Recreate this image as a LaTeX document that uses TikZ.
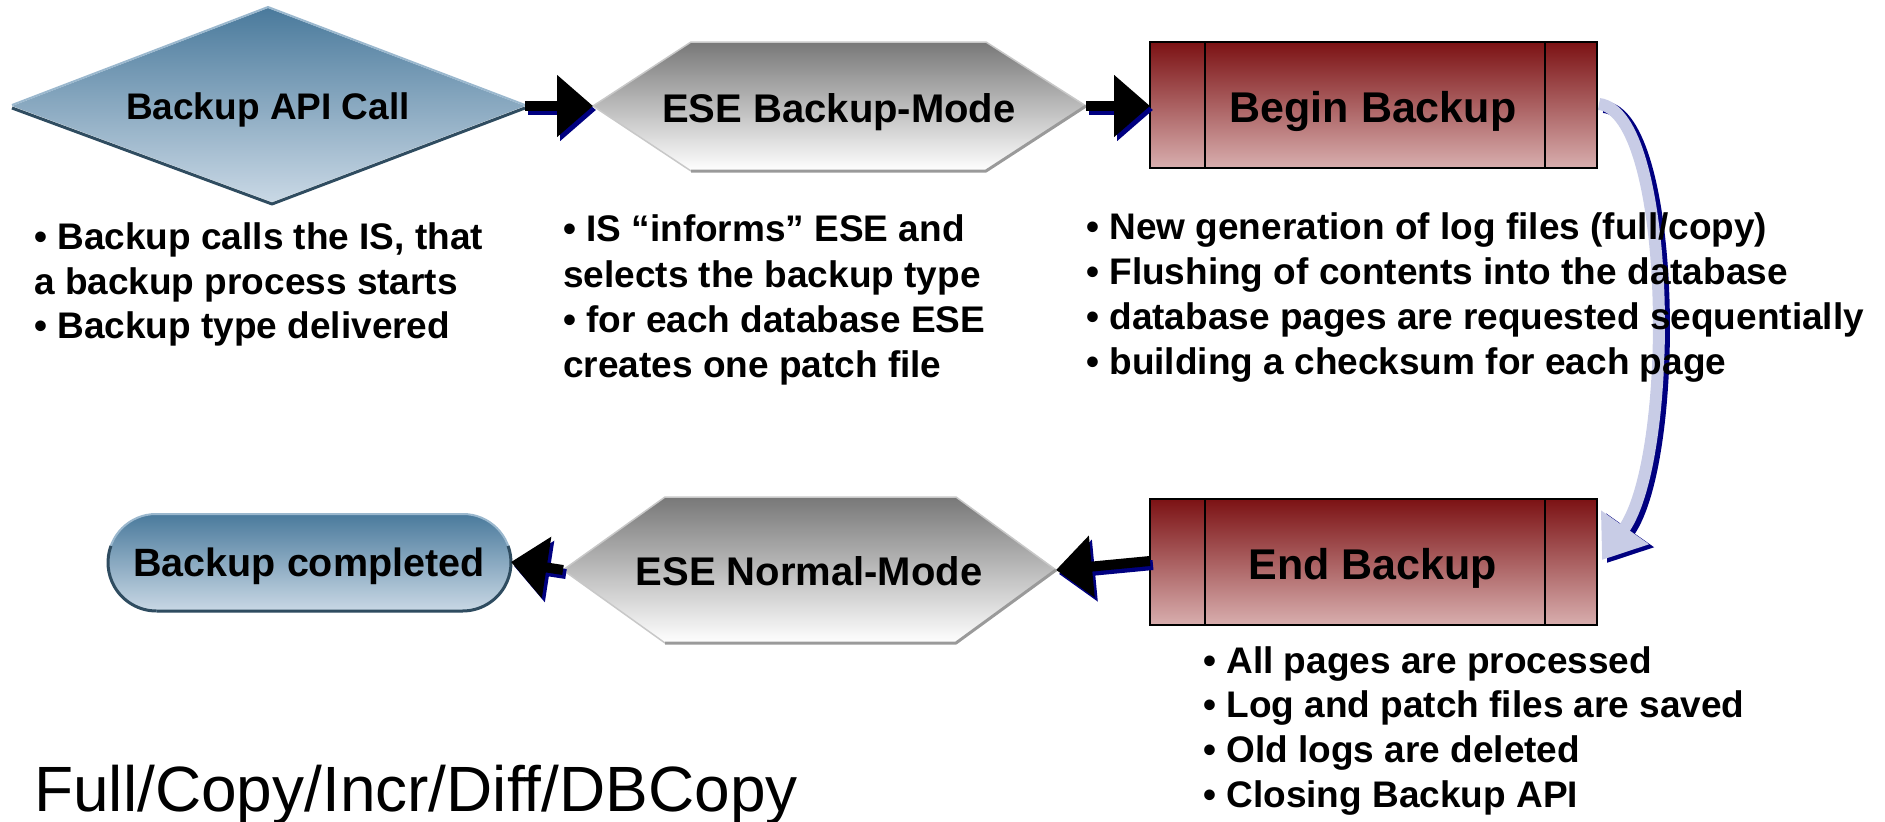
\documentclass[tikz,border=0pt]{standalone}
\usepackage{fontspec}
\setmainfont{Liberation Sans}
\usetikzlibrary{arrows.meta}

\definecolor{navyshadow}{HTML}{000080}
\definecolor{steeltop}{HTML}{4A7A9C}
\definecolor{steelbot}{HTML}{C9D8E5}
\definecolor{steeldark}{HTML}{2F4C60}
\definecolor{steellight}{HTML}{9BB8CE}
\definecolor{greytop}{HTML}{787878}
\definecolor{greybot}{HTML}{FFFFFF}
\definecolor{greyedge}{HTML}{9A9A9A}
\definecolor{greylight}{HTML}{C8C8C8}
\definecolor{redtop}{HTML}{7C1214}
\definecolor{redbot}{HTML}{D8AEAE}
\definecolor{lavender}{HTML}{C8CCE6}

\tikzset{
  shapetext/.style={inner sep=0pt, font=\bfseries\fontsize{#1}{#1}\selectfont},
  bultext/.style={anchor=base west, inner sep=0pt, font=\bfseries\fontsize{37}{44}\selectfont},
  flow/.style={line width=10pt, -{Triangle[length=36pt,width=60pt]}},
  flowshade/.style={flow, navyshadow, transform canvas={shift={(3pt,-4pt)}}},
  stagebox/.style={line width=2.5pt, draw=black, top color=redtop, bottom color=redbot},
}

\begin{document}
\begin{tikzpicture}[x=1pt,y=-1pt]
\useasboundingbox (0,0) rectangle (1885,822);

% ---------- corner points of the shapes ----------
\coordinate (apiW) at (12,106);
\coordinate (apiN) at (268,8);
\coordinate (apiE) at (525,106);
\coordinate (apiS) at (272,202);

\coordinate (bmW)  at (593,106);
\coordinate (bmNW) at (691,42);
\coordinate (bmNE) at (986,42);
\coordinate (bmE)  at (1086,106);
\coordinate (bmSE) at (986,171);
\coordinate (bmSW) at (691,171);

\coordinate (nmW)  at (563,570);
\coordinate (nmNW) at (665,497);
\coordinate (nmNE) at (956,497);
\coordinate (nmE)  at (1056,570);
\coordinate (nmSE) at (956,643);
\coordinate (nmSW) at (665,643);

\coordinate (beginW) at (1150,106);
\coordinate (beginE) at (1599,104);
\coordinate (endW)   at (1150,561);
\coordinate (endTip) at (1602,560);
\coordinate (doneE)  at (511,562);

% ---------- curved arrow from Begin Backup to End Backup ----------
\draw[navyshadow, line width=12pt, -{Triangle[length=40pt,width=56pt]},
      transform canvas={shift={(5pt,-3pt)}}]
  (beginE) .. controls (1672,112) and (1676,455) .. (endTip);
\draw[lavender, line width=12pt, -{Triangle[length=40pt,width=56pt]}]
  (beginE) .. controls (1672,112) and (1676,455) .. (endTip);

% ---------- Backup API Call (diamond) ----------
\shade[top color=steeltop, bottom color=steelbot]
  (apiW) -- (apiN) -- (apiE) -- (apiS) -- cycle;
\draw[steeldark, line width=3pt, line join=round] (12,108) -- (272,204) -- (525,108);
\draw[steellight, line width=2pt, line join=round] (12,105) -- (268,7) -- (525,105);
\node[shapetext=37] (api) at (268,110) {Backup API Call};

% ---------- ESE Backup-Mode (hexagon) ----------
\shade[top color=greytop, bottom color=greybot]
  (bmW) -- (bmNW) -- (bmNE) -- (bmE) -- (bmSE) -- (bmSW) -- cycle;
\draw[greylight, line width=1.5pt, line join=round] (bmSW) -- (bmW) -- (bmNW) -- (bmNE) -- (bmE);
\draw[greyedge, line width=3pt, line join=round] (bmE) -- (bmSE) -- (bmSW);
\node[shapetext=40] (bm) at (839,112) {ESE Backup-Mode};

% ---------- Begin Backup ----------
\path[stagebox] (1150,42) rectangle (1597,168);
\draw[line width=2.5pt] (1205,42) -- (1205,168) (1545,42) -- (1545,168);
\node[shapetext=43] (begin) at (1373,111) {Begin Backup};

% ---------- End Backup ----------
\path[stagebox] (1150,499) rectangle (1597,625);
\draw[line width=2.5pt] (1205,499) -- (1205,625) (1545,499) -- (1545,625);
\node[shapetext=43] (end) at (1373,568) {End Backup};

% ---------- ESE Normal-Mode (hexagon) ----------
\shade[top color=greytop, bottom color=greybot]
  (nmW) -- (nmNW) -- (nmNE) -- (nmE) -- (nmSE) -- (nmSW) -- cycle;
\draw[greylight, line width=1.5pt, line join=round] (nmSW) -- (nmW) -- (nmNW) -- (nmNE) -- (nmE);
\draw[greyedge, line width=3pt, line join=round] (nmE) -- (nmSE) -- (nmSW);
\node[shapetext=40] (nm) at (809,571) {ESE Normal-Mode};

% ---------- Backup completed (pill) ----------
\shade[rounded corners=48pt, top color=steeltop, bottom color=steelbot]
  (108,514) rectangle (511,611);
\draw[steellight, line width=2pt, rounded corners=48pt] (108,514) rectangle (511,611);
% darker rim along the lower half
\draw[steeldark, line width=3pt]
  (156.5,611) -- (462.5,611) arc[start angle=90, end angle=-20, radius=48.5];
\draw[steeldark, line width=3pt]
  (156.5,611) arc[start angle=90, end angle=200, radius=48.5];
\node[shapetext=39.5] (done) at (309,566) {Backup completed};

% ---------- straight arrows ----------
\draw[flowshade] (apiE) -- (bmW);
\draw[flow] (apiE) -- (bmW);
\draw[flowshade] (bmE) -- (beginW);
\draw[flow] (bmE) -- (beginW);
\draw[flowshade] (endW) -- (nmE);
\draw[flow] (endW) -- (nmE);
\draw[flowshade] (nmW) -- (doneE);
\draw[flow] (nmW) -- (doneE);

% ---------- descriptions ----------
\node[bultext] (d1a) at (34,249) {• Backup calls the IS, that};
\node[bultext] (d1b) at (34,294) {a backup process starts};
\node[bultext] (d1c) at (34,338) {• Backup type delivered};

\node[bultext] (d2a) at (563,241) {• IS “informs” ESE and};
\node[bultext] (d2b) at (563,287) {selects the backup type};
\node[bultext] (d2c) at (563,332) {• for each database ESE};
\node[bultext] (d2d) at (563,377) {creates one patch file};

\node[bultext] (d3a) at (1086,239) {• New generation of log files (full/copy)};
\node[bultext] (d3b) at (1086,284) {• Flushing of contents into the database};
\node[bultext] (d3c) at (1086,329) {• database pages are requested sequentially};
\node[bultext] (d3d) at (1086,374) {• building a checksum for each page};

\node[bultext] (d4a) at (1203,673) {• All pages are processed};
\node[bultext] (d4b) at (1203,717) {• Log and patch files are saved};
\node[bultext] (d4c) at (1203,762) {• Old logs are deleted};
\node[bultext] (d4d) at (1203,807) {• Closing Backup API};

\node[anchor=base west, inner sep=0pt, font=\fontsize{64}{70}\selectfont] (types) at (34,811)
  {Full/Copy/Incr/Diff/DBCopy};
\end{tikzpicture}
\end{document}
